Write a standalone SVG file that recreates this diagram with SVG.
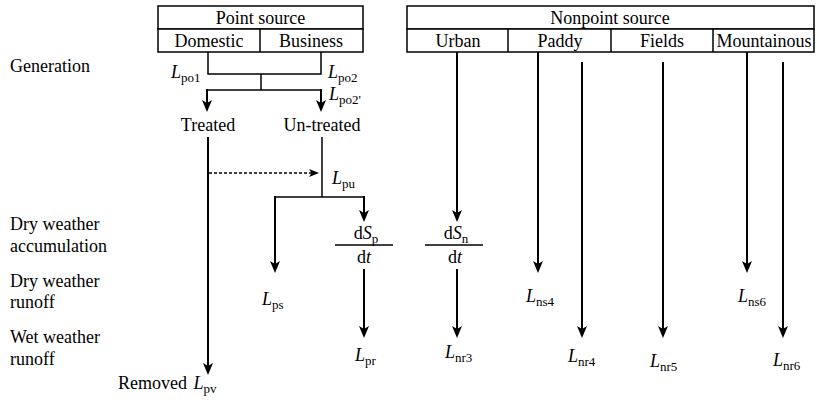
<svg xmlns="http://www.w3.org/2000/svg" width="817" height="407" viewBox="0 0 817 407" font-family="'Liberation Serif', 'DejaVu Serif', serif">
<style>
text{font-family:'Liberation Serif','DejaVu Serif',serif;font-size:18px;fill:#000}
.c{text-anchor:middle}
.i{font-style:italic}
.s{font-size:13px}
.box{fill:#fff;stroke:#000;stroke-width:1.5}
.ln{fill:none;stroke:#000;stroke-width:1.5}
.ar{fill:none;stroke:#000;stroke-width:2;marker-end:url(#ah)}
.ds{fill:none;stroke:#000;stroke-width:1.5;stroke-dasharray:3 2;marker-end:url(#ahs)}
.fr{stroke:#000;stroke-width:1.5}
</style>
<defs>
<marker id="ah" markerUnits="userSpaceOnUse" markerWidth="13" markerHeight="12" refX="9" refY="5" orient="auto" viewBox="0 0 13 10">
<path d="M0,0 L12,5 L0,10 L3,5 z" fill="#000"/>
</marker>
<marker id="ahs" markerUnits="userSpaceOnUse" markerWidth="11" markerHeight="9" refX="7" refY="4" orient="auto" viewBox="0 0 11 8">
<path d="M0,0 L10,4 L0,8 L2.5,4 z" fill="#000"/>
</marker>
</defs>

<g id="point-source">
<rect class="box" x="158" y="6" width="205" height="23"/>
<rect class="box" x="158" y="29" width="205" height="23"/>
<line class="ln" x1="260" y1="29" x2="260" y2="52"/>
<text class="c" x="260.5" y="24">Point source</text>
<text class="c" x="209" y="47">Domestic</text>
<text class="c" x="311" y="47">Business</text>
</g>

<g id="nonpoint-source">
<rect class="box" x="407" y="6" width="407" height="23"/>
<rect class="box" x="407" y="29" width="407" height="23"/>
<line class="ln" x1="508" y1="29" x2="508" y2="52"/>
<line class="ln" x1="611" y1="29" x2="611" y2="52"/>
<line class="ln" x1="713" y1="29" x2="713" y2="52"/>
<text class="c" x="610" y="24">Nonpoint source</text>
<text class="c" x="458" y="47">Urban</text>
<text class="c" x="560" y="47">Paddy</text>
<text class="c" x="662" y="47">Fields</text>
<text class="c" x="764" y="47">Mountainous</text>
</g>

<g id="stage-labels">
<text x="10" y="72">Generation</text>
<text x="10" y="230">Dry weather</text>
<text x="10" y="252">accumulation</text>
<text x="10" y="287">Dry weather</text>
<text x="10" y="308">runoff</text>
<text x="10" y="343">Wet weather</text>
<text x="10" y="365">runoff</text>
</g>

<g id="treated"><text class="c" x="208" y="131">Treated</text></g>
<g id="untreated"><text class="c" x="322" y="131">Un-treated</text></g>

<g id="dsp">
<text class="c" x="366" y="239">d<tspan class="i">S</tspan><tspan class="s" dy="4">p</tspan></text>
<line class="fr" x1="335" y1="245" x2="393" y2="245"/>
<text class="c" x="364" y="263">d<tspan class="i">t</tspan></text>
</g>
<g id="dsn">
<text class="c" x="456" y="239">d<tspan class="i">S</tspan><tspan class="s" dy="4">n</tspan></text>
<line class="fr" x1="425" y1="245" x2="483" y2="245"/>
<text class="c" x="455" y="263">d<tspan class="i">t</tspan></text>
</g>

<g id="load-labels">
<text x="171" y="78"><tspan class="i">L</tspan><tspan class="s" dy="4">po1</tspan></text>
<text x="328" y="78"><tspan class="i">L</tspan><tspan class="s" dy="4">po2</tspan></text>
<text x="329" y="100"><tspan class="i">L</tspan><tspan class="s" dy="4">po2'</tspan></text>
<text x="332" y="184"><tspan class="i">L</tspan><tspan class="s" dy="4">pu</tspan></text>
<text x="262" y="305"><tspan class="i">L</tspan><tspan class="s" dy="4">ps</tspan></text>
<text x="355" y="361"><tspan class="i">L</tspan><tspan class="s" dy="4">pr</tspan></text>
<text x="118" y="389">Removed <tspan class="i" dx="2">L</tspan><tspan class="s" dy="4">pv</tspan></text>
<text x="445" y="358"><tspan class="i">L</tspan><tspan class="s" dy="4">nr3</tspan></text>
<text x="526" y="302"><tspan class="i">L</tspan><tspan class="s" dy="4">ns4</tspan></text>
<text x="568" y="362"><tspan class="i">L</tspan><tspan class="s" dy="4">nr4</tspan></text>
<text x="650" y="367"><tspan class="i">L</tspan><tspan class="s" dy="4">nr5</tspan></text>
<text x="738" y="302"><tspan class="i">L</tspan><tspan class="s" dy="4">ns6</tspan></text>
<text x="773" y="366"><tspan class="i">L</tspan><tspan class="s" dy="4">nr6</tspan></text>
</g>

<g id="connectors">
<polyline class="ln" points="208,52 208,74 321,74 321,52"/>
<line class="ln" x1="261" y1="74" x2="261" y2="90"/>
<line class="ln" x1="207" y1="90" x2="321" y2="90"/>
<line class="ar" x1="207" y1="89" x2="207" y2="109"/>
<line class="ar" x1="321" y1="89" x2="321" y2="109"/>
<line class="ar" x1="208" y1="137" x2="208" y2="372"/>
<line class="ln" x1="322" y1="137" x2="322" y2="197"/>
<line class="ds" x1="209" y1="173" x2="316" y2="173"/>
<line class="ln" x1="275" y1="197" x2="364" y2="197"/>
<line class="ar" x1="275" y1="196" x2="275" y2="270"/>
<line class="ar" x1="364" y1="196" x2="364" y2="219"/>
<line class="ar" x1="364" y1="269" x2="364" y2="335"/>
<line class="ar" x1="457" y1="52" x2="457" y2="219"/>
<line class="ar" x1="457" y1="269" x2="457" y2="335"/>
<line class="ar" x1="538" y1="52" x2="538" y2="270"/>
<line class="ar" x1="582" y1="62" x2="582" y2="335"/>
<line class="ar" x1="663" y1="62" x2="663" y2="335"/>
<line class="ar" x1="747" y1="52" x2="747" y2="270"/>
<line class="ar" x1="783" y1="62" x2="783" y2="335"/>
</g>
</svg>
